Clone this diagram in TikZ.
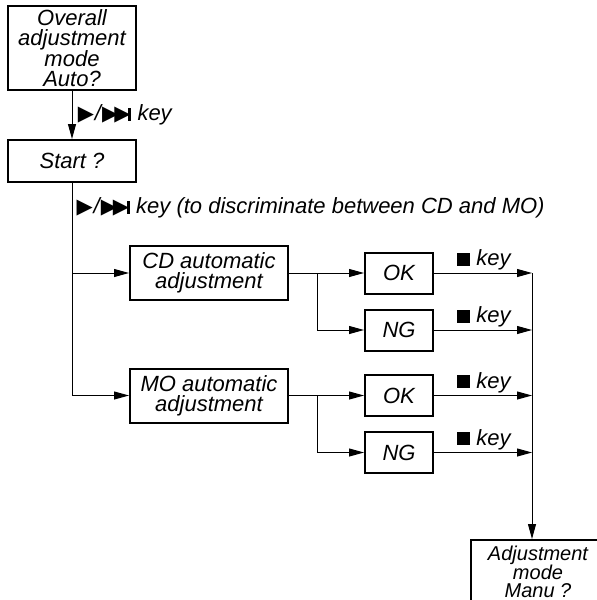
\documentclass[tikz,border=0pt]{standalone}
\usepackage{fontspec}
\setmainfont{Liberation Sans}
\newfontfamily\symfont{DejaVu Sans}
\usetikzlibrary{shapes,arrows.meta,positioning}

% key symbols used in the labels
\newcommand{\playkey}{{\upshape\symfont\fontsize{21}{21}\selectfont ▶}\kern1pt/\kern1pt{\upshape\symfont\fontsize{21}{21}\selectfont ▶\kern-4pt▶}\kern-2pt\rule{3pt}{12.5pt}}
\newcommand{\stopkey}{\rule{13pt}{13pt}}

\begin{document}
\begin{tikzpicture}[x=1pt, y=1pt, font=\itshape\fontsize{22}{20}\selectfont, >={Triangle[length=15pt,width=8pt]}]
			\tikzset{
				stage/.style={rectangle, draw=black, line width=2pt, align=center, inner sep=0pt},
				result/.style={stage, minimum width=68pt, minimum height=41pt},
				adjust/.style={stage, minimum width=158pt, minimum height=54pt},
				line/.style={line width=1pt, ->},
			}
			\useasboundingbox (0,0) rectangle (597,-600);
			\clip (0,0) rectangle (597,-600);
			\node[stage, minimum width=128pt, minimum height=84pt](auto) at (72,-48){Overall\\adjustment\\mode\\Auto?};
			\node[stage, minimum width=128pt, minimum height=42pt](start) at (72,-161){Start ?};
			\node[adjust](cd) at (209,-273){CD automatic\\adjustment};
			\node[adjust](mo) at (209,-395.5){MO automatic\\adjustment};
			\node[result](cdok) at (399,-273){OK};
			\node[result, below=14pt of cdok](cdng){NG};
			\node[result](mook) at (399,-395.5){OK};
			\node[result, below=14pt of mook](mong){NG};
			\node[stage, anchor=north, minimum width=134pt, minimum height=64pt, font=\itshape\fontsize{20}{18}\selectfont](manu) at (538,-539){Adjustment\\mode\\Manu ?};
			\coordinate (cdfork) at (317,-273);
			\coordinate (mofork) at (317,-395.5);
			\coordinate (bus) at (532,-273);
			%draw arrows
			\draw[line] (auto) -- node[right, xshift=2pt]{\playkey\ key} (start);
			\draw[line] (start.south) |- (mo);
			\draw[line] (start.south |- cd.west) -- (cd);
			\node[anchor=west] (hint) at (73,-208){\playkey\ key (to discriminate between CD and MO)};
			\draw[line] (cd) -- (cdok);
			\draw[line] (cdfork) |- (cdng);
			\draw[line] (mo) -- (mook);
			\draw[line] (mofork) |- (mong);
			\foreach \res in {cdok, cdng, mook, mong}
				\draw[line] (\res) -- node[above, inner sep=2pt, xshift=1pt]{\stopkey\ key} (\res -| bus);
			\draw[line] (bus) -- (bus |- manu.north);
		\end{tikzpicture}
\end{document}
